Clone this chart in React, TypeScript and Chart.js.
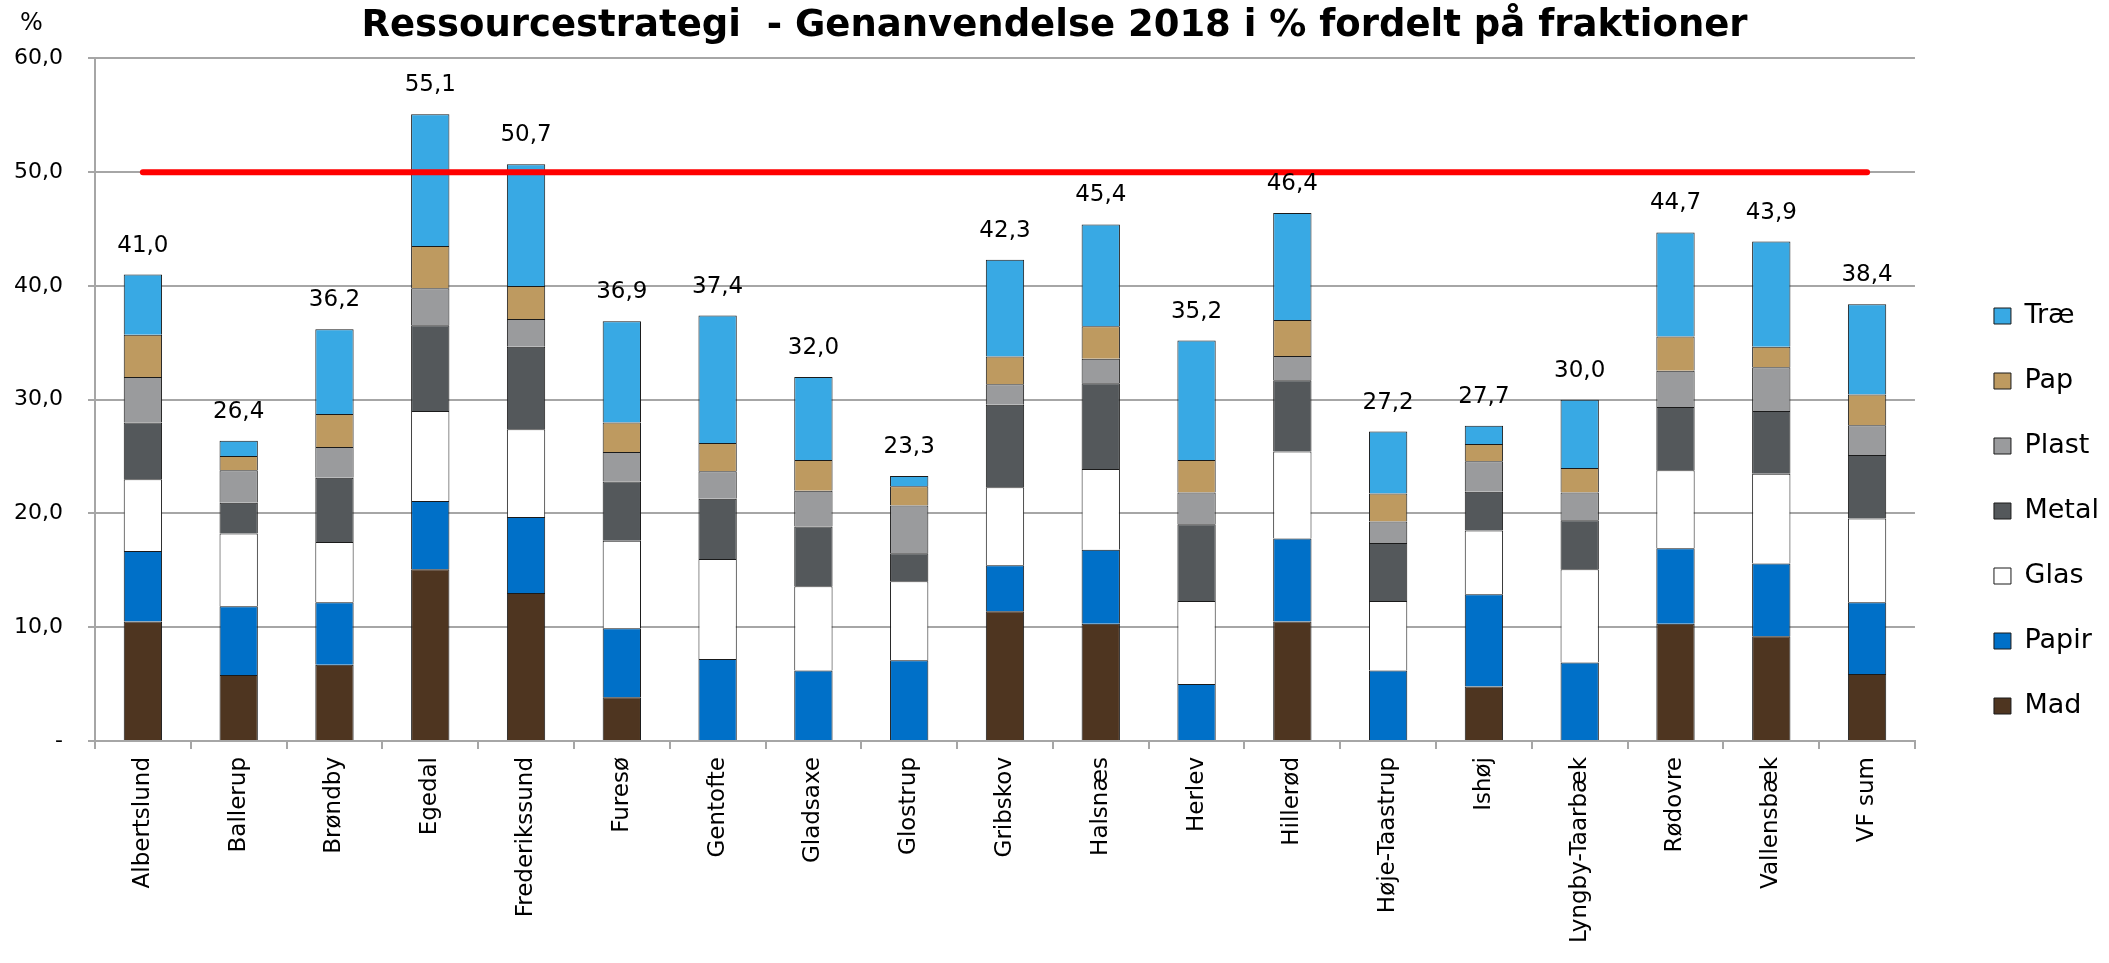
import { useEffect, useRef } from 'react';
import { Chart, registerables } from 'chart.js';

Chart.register(...registerables);

const categories = [
  'Albertslund', 'Ballerup', 'Brøndby', 'Egedal', 'Frederikssund', 'Furesø', 'Gentofte',
  'Gladsaxe', 'Glostrup', 'Gribskov', 'Halsnæs', 'Herlev', 'Hillerød', 'Høje-Taastrup',
  'Ishøj', 'Lyngby-Taarbæk', 'Rødovre', 'Vallensbæk', 'VF sum',
];

const mad = [10.5, 5.8, 6.7, 15.1, 13.0, 3.85, null, null, null, 11.4, 10.3, null, 10.5, null, 4.8, null, 10.3, 9.2, 5.9];
const papir = [6.2, 6.05, 5.5, 6.0, 6.7, 6.05, 7.2, 6.2, 7.1, 4.05, 6.5, 5.0, 7.3, 6.2, 8.1, 6.9, 6.65, 6.4, 6.3];
const glas = [6.3, 6.4, 5.3, 7.9, 7.7, 7.7, 8.8, 7.4, 6.95, 6.85, 7.1, 7.3, 7.65, 6.1, 5.6, 8.2, 6.85, 7.9, 7.35];
const metal = [5.0, 2.7, 5.65, 7.55, 7.25, 5.2, 5.3, 5.25, 2.45, 7.25, 7.55, 6.75, 6.25, 5.1, 3.4, 4.3, 5.55, 5.5, 5.6];
const plast = [4.0, 2.85, 2.7, 3.25, 2.45, 2.6, 2.4, 3.15, 4.2, 1.8, 2.15, 2.8, 2.15, 1.9, 2.7, 2.45, 3.2, 3.85, 2.6];
const pap = [3.7, 1.25, 2.9, 3.7, 2.9, 2.6, 2.5, 2.7, 1.7, 2.45, 2.85, 2.85, 3.15, 2.45, 1.5, 2.15, 3.0, 1.8, 2.7];
const trae = [5.3, 1.35, 7.45, 11.6, 10.7, 8.9, 11.2, 7.3, 0.9, 8.5, 8.95, 10.5, 9.4, 5.45, 1.6, 6.0, 9.15, 9.25, 7.95];

const totals = [41.0, 26.4, 36.2, 55.1, 50.7, 36.9, 37.4, 32.0, 23.3, 42.3, 45.4, 35.2, 46.4, 27.2, 27.7, 30.0, 44.7, 43.9, 38.4];

const targetLine = [50, 50, 50, 50, 50, 50, 50, 50, 50, 50, 50, 50, 50, 50, 50, 50, 50, 50, 50];

const seriesNames = ['Mad', 'Papir', 'Glas', 'Metal', 'Plast', 'Pap', 'Træ'];
const seriesColors = ['#4E3520', '#0070C8', '#FFFFFF', '#54585B', '#9A9B9D', '#BE9A60', '#38A9E4'];

const yTickLabels = ['-', '10,0', '20,0', '30,0', '40,0', '50,0', '60,0'];

const titleText = 'Ressourcestrategi  - Genanvendelse 2018 i % fordelt på fraktioner';
const unitText = '%';

const FONT = "'DejaVu Sans', Verdana, sans-serif";
const GRID = '#A6A6A6';

export default function App() {
  const ref = useRef<HTMLCanvasElement>(null);

  useEffect(() => {
    if (!ref.current) return;
    const series = [mad, papir, glas, metal, plast, pap, trae];

    const totalsPlugin = {
      id: 'totalsLabels',
      afterDatasetsDraw(chart: any) {
        const { ctx, scales } = chart;
        ctx.save();
        ctx.font = `23px ${FONT}`;
        ctx.fillStyle = '#000';
        ctx.textAlign = 'center';
        ctx.textBaseline = 'alphabetic';
        totals.forEach((t, i) => {
          const x = scales.x.getPixelForValue(i);
          const y = scales.y.getPixelForValue(t);
          ctx.fillText(t.toFixed(1).replace('.', ','), x, y - 23);
        });
        ctx.restore();
      },
    };

    const unitPlugin = {
      id: 'unitLabel',
      afterDraw(chart: any) {
        const { ctx } = chart;
        ctx.save();
        ctx.font = `24px ${FONT}`;
        ctx.fillStyle = '#000';
        ctx.textAlign = 'left';
        ctx.textBaseline = 'alphabetic';
        ctx.fillText(unitText, 20, 30);
        ctx.restore();
      },
    };

    const chart = new Chart(ref.current, {
      type: 'bar',
      data: {
        labels: categories,
        datasets: [
          ...series.map((d, i) => ({
            type: 'bar' as const,
            label: seriesNames[i],
            data: d as any,
            backgroundColor: seriesColors[i],
            borderColor: '#1A1A1A',
            borderWidth: 1,
            barPercentage: 0.4,
            categoryPercentage: 1,
            order: 1,
          })),
          {
            type: 'line' as const,
            label: 'Mål',
            data: targetLine,
            borderColor: '#FF0000',
            borderWidth: 6,
            pointRadius: 0,
            borderCapStyle: 'round' as const,
            fill: false,
            order: 0,
          },
        ],
      },
      options: {
        animation: false,
        responsive: true,
        maintainAspectRatio: false,
        layout: { padding: 0 },
        plugins: {
          tooltip: { enabled: false },
          title: {
            display: true,
            text: titleText,
            color: '#000',
            font: { family: FONT, size: 37, weight: 'bold' },
            padding: { top: 4, bottom: 10 },
          },
          legend: {
            display: true,
            position: 'right',
            reverse: true,
            title: { display: true, text: ' ', font: { size: 10 }, padding: { top: 0, bottom: 47 } },
            labels: {
              filter: (item: any) => item.datasetIndex < 7,
              boxWidth: 17,
              boxHeight: 16,
              padding: 38,
              color: '#000',
              font: { family: FONT, size: 27 },
            },
          },
        },
        scales: {
          x: {
            stacked: true,
            grid: {
              display: true,
              drawOnChartArea: false,
              drawTicks: true,
              tickLength: 8,
              color: GRID,
              lineWidth: 2,
            },
            border: { display: true, color: GRID, width: 2 },
            ticks: {
              autoSkip: false,
              minRotation: 90,
              maxRotation: 90,
              padding: 8,
              color: '#000',
              font: { family: FONT, size: 23 },
            },
            afterFit: (s: any) => { s.height = 222; },
          },
          y: {
            stacked: true,
            min: 0,
            max: 60,
            ticks: {
              stepSize: 10,
              padding: 25,
              color: '#000',
              font: { family: FONT, size: 22 },
              callback: (_v: any, i: number) => yTickLabels[i],
            },
            grid: { color: GRID, lineWidth: 2, drawTicks: true, tickLength: 7 },
            border: { display: true, color: GRID, width: 2 },
            afterFit: (s: any) => { s.width = 95; },
          },
          spacer: {
            type: 'linear',
            position: 'right',
            display: true,
            grid: { display: false, drawTicks: false },
            ticks: { display: false },
            border: { display: false },
            afterFit: (s: any) => { s.width = 41; },
          },
        },
      } as any,
      plugins: [totalsPlugin, unitPlugin],
    });

    return () => chart.destroy();
  }, []);

  return (
    <div style={{ position: 'fixed', left: 0, top: 0, width: 2109, height: 963, background: '#fff' }}>
      <canvas ref={ref} />
    </div>
  );
}
